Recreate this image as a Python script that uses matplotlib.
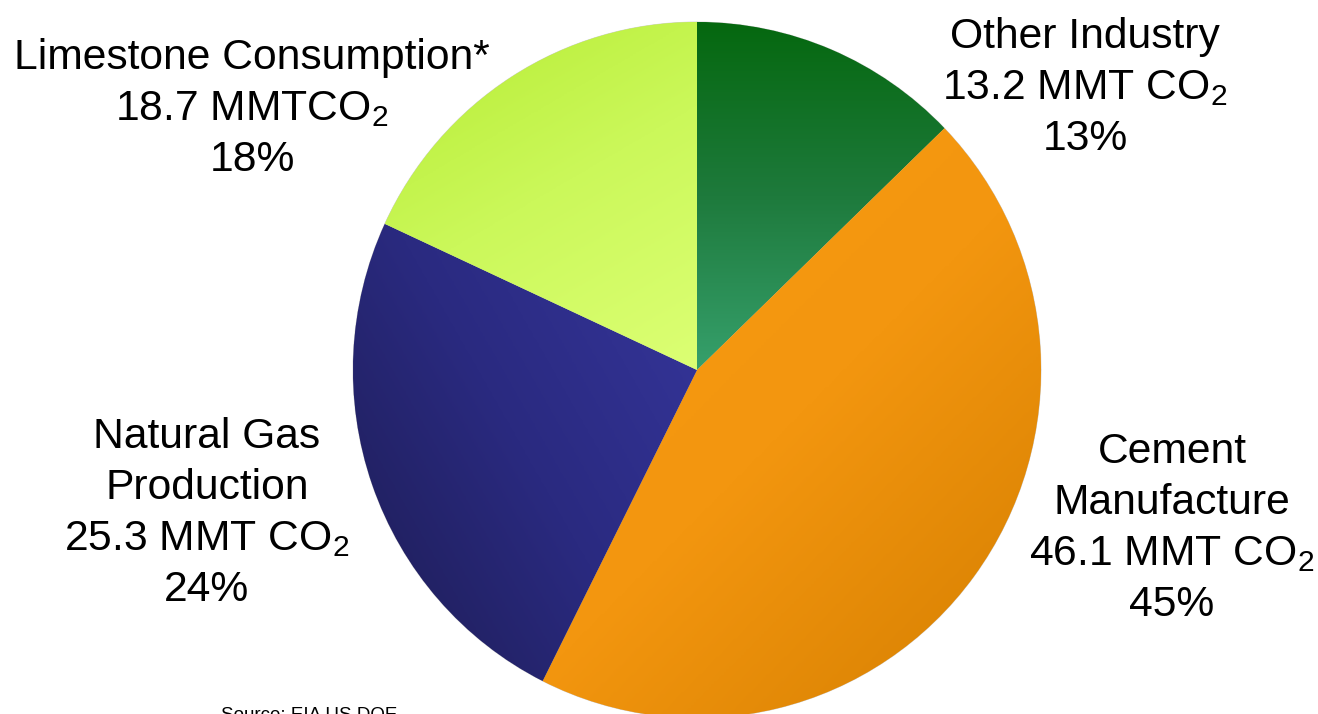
import numpy as np
import matplotlib
matplotlib.use("Agg")
import matplotlib.pyplot as plt
from matplotlib.colors import LinearSegmentedColormap

plt.rcParams["font.family"] = ["Liberation Sans", "DejaVu Sans"]
plt.rcParams["mathtext.fontset"] = "custom"
plt.rcParams["mathtext.rm"] = "Liberation Sans"

# data (MMT CO2), clockwise from the top
sectors = ["Other Industry", "Cement Manufacture", "Natural Gas Production", "Limestone Consumption"]
values = [13.2, 46.1, 25.3, 18.7]
pct_labels = ["13%", "45%", "24%", "18%"]
texts = [
    "Other Industry\n13.2 MMT CO$_2$\n13%",
    "Cement\nManufacture\n46.1 MMT CO$_2$\n45%",
    "Natural Gas\nProduction\n25.3 MMT CO$_2$\n24%",
    "Limestone Consumption*\n18.7 MMTCO$_2$\n18%",
]

# gradient stops per slice and direction in degrees
grads = [
    (["#05680f", "#1e7a3c", "#36a06c"], -90),   # top -> bottom
    (["#f89b12", "#f3960f", "#d47e00"], -45),   # upper-left -> lower-right
    (["#1d1c52", "#2a2a80", "#36369c"], 30),    # lower-left -> upper-right
    (["#b6ec33", "#cbf85a", "#dcff74"], -60),   # upper-left -> lower-right
]

W, H = 1318, 714
ky = 348 / 344  # pie in the original is a touch taller than wide
fig = plt.figure(figsize=(W / 100, H / 100), dpi=100)
ax = fig.add_axes([0, 0, 1, 1])

cx, cy, r = 697, (H - 370) / ky, 344
wedges, _ = ax.pie(values, startangle=90, counterclock=False, radius=r,
                   center=(cx, cy), frame=True,
                   wedgeprops=dict(linewidth=0.6, edgecolor="#cfcfcf"))
ax.set_xlim(0, W)
ax.set_ylim(0, H / ky)
ax.set_aspect("auto")
ax.axis("off")

for w, (stops, ang) in zip(wedges, grads):
    ext = w.get_path().get_extents()
    x0, y0, x1, y1 = ext.x0, ext.y0, ext.x1, ext.y1
    X, Y = np.meshgrid(np.linspace(0, 1, 200), np.linspace(0, 1, 200))
    dx, dy = np.cos(np.radians(ang)), np.sin(np.radians(ang))
    t = (X - 0.5) * dx * (x1 - x0) + (Y - 0.5) * dy * (y1 - y0)
    t = (t - t.min()) / (t.max() - t.min())
    cmap = LinearSegmentedColormap.from_list("g", stops)
    w.set_facecolor(stops[0])
    im = ax.imshow(t, cmap=cmap, extent=(x0, x1, y0, y1), origin="lower",
                   aspect="auto", interpolation="bilinear", zorder=w.get_zorder() + 0.1)
    im.set_clip_path(w)

# x centre and last-line baseline (pixels from top)
label_pos = [(1085, 150), (1172, 616), (207, 601), (252, 171)]
for txt, (x, y) in zip(texts, label_pos):
    ax.text(x / W, 1 - y / H, txt, transform=ax.transAxes, ha="center",
            va="baseline", fontsize=30.7, linespacing=1.35, multialignment="center")

ax.text(221 / W, 1 - 707 / H, "Source: EIA US DOE", transform=ax.transAxes,
        fontsize=13.5, ha="left", va="top")

plt.savefig("out.png", dpi=100)
